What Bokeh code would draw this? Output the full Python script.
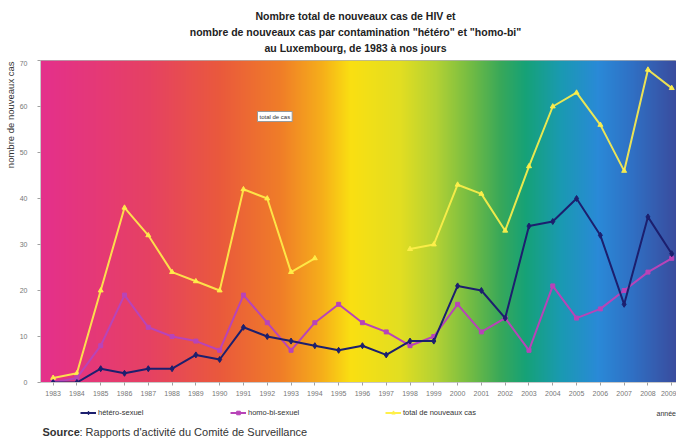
import numpy as np
from bokeh.plotting import figure
from bokeh.layouts import column, row
from bokeh.models import Range1d, FixedTicker, Label, Legend, LegendItem
from bokeh.embed import file_html
from bokeh.resources import INLINE

# ---- data ----
years = list(range(1983, 2010))
hetero = [0, 0, 3, 2, 3, 3, 6, 5, 12, 10, 9, 8, 7, 8, 6, 9, 9, 21, 20, 14, 34, 35, 40, 32, 17, 36, 28]
homo = [0, 1, 8, 19, 12, 10, 9, 7, 19, 13, 7, 13, 17, 13, 11, 8, 10, 17, 11, 14, 7, 21, 14, 16, 20, 24, 27]
NA = float("nan")
total = [1, 2, 20, 38, 32, 24, 22, 20, 42, 40, 24, 27, NA, NA, NA, 29, 30, 43, 41, 33, 47, 60, 63, 56, 46, 68, 64]
y_ticks = [0, 10, 20, 30, 40, 50, 60, 70]
series_names = ["hétéro-sexuel", "homo-bi-sexuel", "total de nouveaux cas"]
title_lines = ["Nombre total de nouveaux cas de HIV et",
               "nombre de nouveaux cas par contamination \"hétéro\" et \"homo-bi\"",
               "au Luxembourg, de 1983 à nos jours"]

FONT = "Liberation Sans"
W = 676
X0, X1 = 1982.47, 2009.2
c_tot, c_homo, c_het = "#fff04a", "#b844b8", "#1c1f6e"


def blank(width, height):
    f = figure(width=width, height=height, output_backend="svg", toolbar_location=None,
               x_range=Range1d(0, width), y_range=Range1d(0, height),
               x_axis_location=None, y_axis_location=None,
               min_border=0, outline_line_color=None, border_fill_color="white",
               background_fill_color="white")
    f.grid.visible = False
    return f


def lab(fig, text, x, y, size, bold=False, align="left", baseline="middle", angle=0,
        color="#222222", units="data", **kw):
    fig.add_layout(Label(text=text, x=x, y=y, x_units=units, y_units=units,
                         text_font=FONT, text_font_size=size,
                         text_font_style="bold" if bold else "normal",
                         text_align=align, text_baseline=baseline, angle=angle,
                         text_color=color, **kw))


# ---- title strip ----
ft = blank(W, 60)
for i, line in enumerate(title_lines):
    lab(ft, line, 355, 45 - 16 * i, "10.5px", bold=True, align="center")

# ---- y label strip ----
fl = blank(16, 340)
lab(fl, "nombre de nouveaux cas", 10, 339, "9.5px", align="right", angle=np.pi / 2, color="#333333")

# ---- main chart ----
p = figure(width=W - 16, height=340, output_backend="svg", toolbar_location=None,
           x_range=Range1d(X0, X1), y_range=Range1d(0, 70),
           min_border_left=24, min_border_right=0, min_border_top=0, min_border_bottom=18,
           border_fill_color="white", outline_line_color="#b0b0b0", outline_line_width=1)
p.grid.visible = False

# rainbow background (decoration)
stops = [(40, "#e4308c"), (150, "#e64262"), (220, "#ea5a3c"), (280, "#f07e28"),
         (322, "#f6b01a"), (350, "#fae012"), (400, "#e2de22"), (435, "#b4d234"),
         (470, "#72bc44"), (500, "#38a85a"), (525, "#16a278"), (560, "#1a9ab2"),
         (597, "#2a8ad8"), (632, "#3070c4"), (676, "#3a4c9e")]
N = 636
sx = np.array([s[0] for s in stops], dtype=float)
cols = np.array([[int(c[1:3], 16), int(c[3:5], 16), int(c[5:7], 16)] for _, c in stops], dtype=float)
px = 40 + np.arange(N)
img = np.empty((1, N), dtype=np.uint32)
view = img.view(dtype=np.uint8).reshape((1, N, 4))
for k in range(3):
    view[0, :, k] = np.interp(px, sx, cols[:, k]).astype(np.uint8)
view[0, :, 3] = 255
p.image_rgba(image=[img], x=X0, y=0, dw=X1 - X0, dh=70)

p.line(years, total, color=c_tot, line_width=2, line_alpha=0.9)
p.scatter(years, total, marker="triangle", size=5, color=c_tot, alpha=0.9)
p.line(years, homo, color=c_homo, line_width=2)
p.scatter(years, homo, marker="square", size=4, color=c_homo)
p.line(years, hetero, color=c_het, line_width=2)
p.scatter(years, hetero, marker="diamond", size=6, color=c_het)

p.xaxis.ticker = FixedTicker(ticks=years)
p.yaxis.ticker = FixedTicker(ticks=y_ticks)
for ax in (p.xaxis[0], p.yaxis[0]):
    ax.axis_line_color = "#c8c8c8"
    ax.major_tick_line_color = "#a0a0a0"
    ax.major_tick_in = 0
    ax.major_tick_out = 3
    ax.minor_tick_line_color = None
    ax.major_label_text_font = FONT
    ax.major_label_text_color = "#777777"
    ax.major_label_text_font_size = "7px"
p.xaxis.major_label_standoff = 5
p.yaxis.major_label_standoff = 10

# small label box inside the chart
lab(p, "total de cas", 217, 266, "6px", color="#333333", units="screen",
    background_fill_color="white", border_line_color="#999999", padding=2)

# ---- bottom strip: legend, axis title, source ----
fs = blank(W, 43)
proxies = []
for col, mk, sz in ((c_het, "diamond", 6), (c_homo, "square", 4), (c_tot, "triangle", 5)):
    rl = fs.line(x=[NA], y=[NA], color=col, line_width=2)
    rm = fs.scatter(x=[NA], y=[NA], marker=mk, size=sz, color=col)
    proxies.append([rl, rm])
for rends, name, lx in zip(proxies, series_names, (80, 230, 385)):
    leg = Legend(items=[LegendItem(label=name, renderers=rends)], location=(lx, 26),
                 orientation="horizontal", background_fill_alpha=0, border_line_alpha=0,
                 label_text_font_size="7.5px", label_text_font=FONT, label_text_color="#333333",
                 glyph_width=16, glyph_height=9, label_height=9, padding=0, margin=0,
                 label_standoff=2, spacing=0)
    fs.add_layout(leg, "center")

lab(fs, "année", 656, 30, "7px", color="#333333")
lab(fs, "Source", 42, 12, "11px", bold=True, baseline="alphabetic", color="#333333")
lab(fs, " : Rapports d'activité du Comité de Surveillance", 79, 12, "11px",
    baseline="alphabetic", color="#333333")

layout = column(ft, row(fl, p), fs)
open("out.html", "w").write(file_html(layout, INLINE))
